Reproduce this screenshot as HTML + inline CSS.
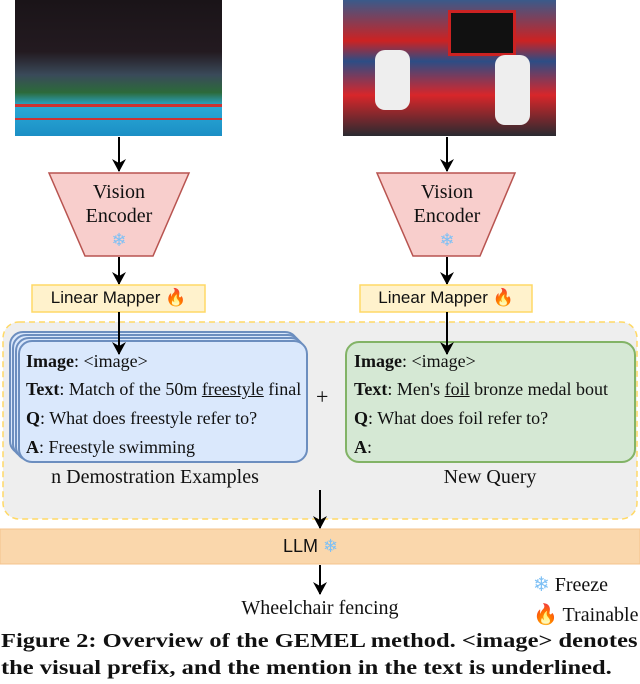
<!DOCTYPE html>
<html><head><style>
body{margin:0;width:640px;height:684px;background:#fff;position:relative;overflow:hidden;font-family:"Liberation Serif",serif;}
.a{position:absolute}
.card{position:absolute;border:2px solid #6c8ebf;background:#dae8fc;border-radius:14px;box-sizing:border-box}
.t{position:absolute;font-size:18px;color:#111;white-space:nowrap}
.sans{font-family:"Liberation Sans",sans-serif}
</style></head><body>
<div class="a" style="left:15px;top:0;width:207px;height:136px;background:linear-gradient(180deg,#1a1418 0%,#231a20 38%,#3a4a5a 55%,#2c6a3a 68%,#2aa9d6 78%,#1b8fc5 100%)"></div>
<div class="a" style="left:15px;top:104px;width:207px;height:3px;background:#c33"></div>
<div class="a" style="left:15px;top:118px;width:207px;height:2px;background:#c33"></div>
<div class="a" style="left:343px;top:0;width:213px;height:136px;background:linear-gradient(180deg,#3a5a8a 0%,#c22 30%,#2c4d85 45%,#d8262a 70%,#2a2a30 100%)"></div>
<div class="a" style="left:448px;top:10px;width:62px;height:40px;background:#111;border:3px solid #c22"></div>
<div class="a" style="left:375px;top:50px;width:35px;height:60px;background:#eee;border-radius:10px"></div>
<div class="a" style="left:495px;top:55px;width:35px;height:70px;background:#eee;border-radius:10px"></div>

<svg class="a" style="left:0;top:0" width="640" height="684">
<defs><marker id="m" markerWidth="14" markerHeight="14" refX="12" refY="7" orient="auto" markerUnits="userSpaceOnUse"><path d="M0,0 L13,7 L0,14 L4,7 z" fill="#000"/></marker></defs>
<g stroke="#000" stroke-width="2" fill="none">
<line x1="119" y1="137" x2="119" y2="171" marker-end="url(#m)"/>
<line x1="447" y1="137" x2="447" y2="171" marker-end="url(#m)"/>
<line x1="119" y1="257" x2="119" y2="284" marker-end="url(#m)"/>
<line x1="447" y1="257" x2="447" y2="284" marker-end="url(#m)"/>
</g>
<rect x="3" y="322" width="634" height="197" rx="16" fill="#eeeeee" stroke="#ffd966" stroke-width="1.5" stroke-dasharray="6,4"/>
<polygon points="49,173 189,173 153,256 85,256" fill="#f8cecc" stroke="#b85450" stroke-width="1.5"/>
<polygon points="377,173 515,173 480,256 413,256" fill="#f8cecc" stroke="#b85450" stroke-width="1.5"/>
<rect x="32" y="285" width="173" height="27" fill="#fff2cc" stroke="#ffd966" stroke-width="1.5"/>
<rect x="360" y="285" width="172" height="27" fill="#fff2cc" stroke="#ffd966" stroke-width="1.5"/>
<rect x="0" y="529" width="640" height="35" fill="#fad7ac" stroke="#f4c38d" stroke-width="1"/>
</svg>
<div class="t" style="left:69px;top:181px;width:100px;text-align:center;font-size:20px">Vision</div>
<div class="t" style="left:69px;top:205px;width:100px;text-align:center;font-size:20px">Encoder</div>
<div class="t" style="left:69px;top:230px;width:100px;text-align:center;font-size:18px;color:#7ec0f5">❄</div>
<div class="t" style="left:397px;top:181px;width:100px;text-align:center;font-size:20px">Vision</div>
<div class="t" style="left:397px;top:205px;width:100px;text-align:center;font-size:20px">Encoder</div>
<div class="t" style="left:397px;top:230px;width:100px;text-align:center;font-size:18px;color:#7ec0f5">❄</div>
<div class="t sans" style="left:32px;top:288px;width:173px;text-align:center;font-size:17px">Linear Mapper <span style="color:#f07b1a">🔥</span></div>
<div class="t sans" style="left:360px;top:288px;width:172px;text-align:center;font-size:17px">Linear Mapper <span style="color:#f07b1a">🔥</span></div>

<div class="card" style="left:9px;top:331px;width:290px;height:124px"></div>
<div class="card" style="left:12px;top:334px;width:290px;height:124px"></div>
<div class="card" style="left:15px;top:337px;width:290px;height:124px"></div>
<div class="card" style="left:18px;top:340px;width:290px;height:123px"></div>
<div class="card" style="left:345px;top:341px;width:291px;height:122px;border-color:#82b366;background:#d5e8d4"></div>

<svg class="a" style="left:0;top:0" width="640" height="684">
<defs><marker id="m2" markerWidth="14" markerHeight="14" refX="12" refY="7" orient="auto" markerUnits="userSpaceOnUse"><path d="M0,0 L13,7 L0,14 L4,7 z" fill="#000"/></marker></defs>
<g stroke="#000" stroke-width="2" fill="none">
<line x1="119" y1="312" x2="119" y2="354" marker-end="url(#m2)"/>
<line x1="447" y1="312" x2="447" y2="354" marker-end="url(#m2)"/>
<line x1="320" y1="490" x2="320" y2="528" marker-end="url(#m2)"/>
<line x1="320" y1="565" x2="320" y2="594" marker-end="url(#m2)"/>
</g></svg>

<div class="t" style="left:26px;top:351px"><b>Image</b>: &lt;image&gt;</div>
<div class="t" style="left:26px;top:379px"><b>Text</b>: Match of the 50m <u>freestyle</u> final</div>
<div class="t" style="left:26px;top:408px"><b>Q</b>: What does freestyle refer to?</div>
<div class="t" style="left:26px;top:437px"><b>A</b>: Freestyle swimming</div>
<div class="t" style="left:354px;top:351px"><b>Image</b>: &lt;image&gt;</div>
<div class="t" style="left:354px;top:379px"><b>Text</b>: Men's <u>foil</u> bronze medal bout</div>
<div class="t" style="left:354px;top:408px"><b>Q</b>: What does foil refer to?</div>
<div class="t" style="left:354px;top:437px"><b>A</b>:</div>
<div class="t" style="left:316px;top:384px;font-size:22px">+</div>
<div class="t" style="left:30px;top:466px;width:250px;text-align:center;font-size:20px">n Demostration Examples</div>
<div class="t" style="left:400px;top:466px;width:180px;text-align:center;font-size:20px">New Query</div>
<div class="t sans" style="left:283px;top:536px;font-size:18px">LLM <span style="color:#7ec0f5">❄</span></div>
<div class="t" style="left:220px;top:597px;width:200px;text-align:center;font-size:20px">Wheelchair fencing</div>
<div class="t" style="left:533px;top:572px;font-size:20px"><span style="color:#7ec0f5">❄</span> Freeze</div>
<div class="t" style="left:533px;top:602px;font-size:20px"><span style="color:#f07b1a">🔥</span> Trainable</div>
<div class="t" style="left:1px;top:630px;font-size:20px;font-weight:bold;transform:scaleX(1.225);transform-origin:0 0">Figure 2: Overview of the GEMEL method. &lt;image&gt; denotes</div>
<div class="t" style="left:1px;top:657px;font-size:20px;font-weight:bold;transform:scaleX(1.225);transform-origin:0 0">the visual prefix, and the mention in the text is underlined.</div>
</body></html>
